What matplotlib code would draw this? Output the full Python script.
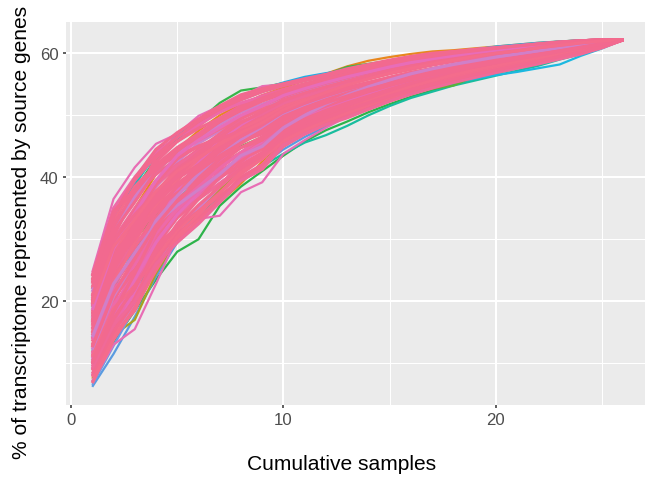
import matplotlib
matplotlib.use("Agg")
import matplotlib.pyplot as plt

samples = list(range(1, 27))

# ---- outlying / coloured permutation curves (drawn first) ----
run_c01 = [8.0, 13.5, 18.5, 23.5, 28.0, 30.0, 35.4, 38.5, 41.0, 43.5, 45.8, 47.6, 49.0, 50.5, 51.8, 53.0, 54.0, 55.0, 55.9, 56.8, 57.6, 58.5, 59.4, 60.3, 61.2, 62.2]
run_c02 = [10.5, 17.0, 22.0, 26.5, 31.0, 34.0, 37.0, 39.5, 41.8, 43.8, 45.6, 46.8, 48.3, 50.0, 51.5, 52.8, 53.8, 54.8, 55.6, 56.4, 57.2, 58.0, 59.0, 59.9, 61.0, 62.2]
run_c03 = [6.2, 11.5, 17.5, 24.0, 29.5, 33.0, 36.5, 39.5, 42.0, 44.5, 46.5, 48.2, 49.8, 51.2, 52.5, 53.6, 54.6, 55.5, 56.3, 57.1, 57.9, 58.7, 59.5, 60.4, 61.3, 62.2]
run_c04 = [9.0, 14.5, 17.0, 24.5, 30.0, 34.5, 38.0, 41.0, 43.0, 45.0, 47.0, 48.7, 50.3, 51.6, 52.9, 54.0, 55.0, 55.9, 56.7, 57.5, 58.2, 59.0, 59.8, 60.6, 61.4, 62.2]
run_c05 = [7.5, 15.0, 20.5, 26.0, 31.0, 33.5, 36.0, 39.0, 42.5, 45.0, 47.2, 49.0, 50.5, 51.8, 53.0, 54.2, 55.2, 56.1, 56.9, 57.7, 58.5, 59.2, 59.9, 60.6, 61.4, 62.2]
run_c06 = [18.0, 28.0, 35.0, 40.5, 44.5, 47.5, 50.0, 51.8, 53.2, 54.5, 55.6, 56.7, 57.9, 58.8, 59.4, 59.9, 60.3, 60.5, 60.8, 61.1, 61.4, 61.7, 61.9, 62.1, 62.2, 62.2]
run_c07 = [20.0, 31.0, 38.0, 43.0, 46.5, 49.0, 52.0, 54.0, 54.5, 55.2, 55.9, 56.6, 57.8, 58.3, 58.8, 59.3, 59.8, 60.2, 60.6, 61.0, 61.3, 61.6, 61.9, 62.1, 62.2, 62.2]
run_c08 = [22.0, 33.0, 39.0, 43.5, 46.8, 49.2, 51.0, 52.8, 54.2, 55.3, 56.2, 56.8, 57.3, 57.9, 58.5, 59.1, 59.6, 60.1, 60.6, 61.1, 61.4, 61.7, 61.9, 62.1, 62.2, 62.2]
run_c09 = [12.0, 22.0, 28.5, 33.0, 36.5, 39.5, 42.0, 44.0, 45.8, 47.3, 48.6, 49.8, 50.9, 51.9, 52.8, 53.6, 54.4, 55.2, 55.9, 56.5, 57.0, 57.6, 58.2, 59.6, 60.8, 62.2]
run_c10 = [19.0, 30.5, 38.5, 44.5, 46.0, 48.8, 50.5, 52.5, 53.8, 54.8, 55.6, 56.3, 57.0, 57.7, 58.4, 59.0, 59.5, 60.0, 60.4, 60.8, 61.2, 61.5, 61.8, 62.0, 62.2, 62.2]
run_c11 = [14.0, 24.0, 30.0, 34.0, 37.5, 40.5, 43.0, 45.0, 46.5, 47.8, 49.0, 50.2, 51.2, 52.2, 53.0, 53.8, 54.3, 54.8, 56.3, 57.0, 57.7, 58.4, 59.1, 59.9, 61.0, 62.2]
run_c12 = [11.0, 20.0, 27.0, 31.5, 35.5, 39.0, 41.5, 44.0, 46.0, 47.8, 49.3, 50.6, 51.8, 52.9, 53.9, 54.8, 55.6, 56.4, 57.1, 57.8, 58.4, 59.1, 59.8, 60.5, 61.3, 62.2]
run_c13 = [6.5, 12.8, 19.0, 25.5, 30.5, 35.0, 38.5, 41.5, 44.0, 46.0, 47.8, 49.4, 50.8, 52.0, 53.2, 54.2, 55.1, 56.0, 56.8, 57.6, 58.3, 59.0, 59.8, 60.6, 61.4, 62.2]

# ---- pink permutation curves (drawn last, on top) ----
run_p01 = [7.0, 13.0, 15.5, 22.8, 30.5, 33.3, 33.8, 37.6, 39.2, 43.8, 46.0, 48.0, 49.8, 51.2, 52.6, 53.8, 54.8, 55.7, 56.6, 57.4, 58.1, 58.8, 59.6, 60.4, 61.3, 62.2]
run_p02 = [24.7, 36.5, 41.6, 45.4, 47.0, 49.9, 51.5, 53.0, 54.7, 55.0, 55.8, 56.5, 57.3, 58.0, 58.8, 59.4, 59.9, 60.3, 60.7, 61.0, 61.3, 61.6, 61.9, 62.1, 62.2, 62.2]
run_p03 = [22.8, 31.5, 36.4, 43.2, 45.8, 47.9, 49.5, 51.5, 53.2, 54.2, 55.1, 55.9, 56.5, 57.2, 58.0, 58.8, 59.3, 59.6, 60.0, 60.5, 60.9, 61.3, 61.6, 61.9, 62.1, 62.2]
run_p04 = [19.1, 29.0, 33.8, 38.7, 41.8, 43.9, 46.6, 48.0, 49.5, 51.3, 52.5, 53.5, 54.5, 55.3, 56.1, 56.9, 57.5, 58.1, 58.6, 59.0, 59.5, 60.1, 60.6, 61.1, 61.6, 62.2]
run_p05 = [8.0, 15.5, 21.5, 29.0, 33.5, 37.0, 39.8, 42.5, 44.6, 47.0, 48.5, 50.0, 51.2, 52.3, 53.5, 54.6, 55.4, 56.2, 57.0, 57.7, 58.3, 59.0, 59.6, 60.3, 61.1, 62.2]
run_p06 = [15.4, 24.0, 28.6, 34.3, 37.9, 40.0, 43.0, 45.8, 47.0, 49.6, 50.9, 52.1, 53.1, 54.2, 55.3, 56.2, 56.9, 57.6, 58.1, 58.6, 59.1, 59.7, 60.3, 60.9, 61.5, 62.2]
run_p07 = [11.7, 19.0, 23.3, 28.5, 31.9, 35.0, 38.5, 42.5, 45.4, 48.4, 50.5, 52.0, 53.0, 54.0, 54.9, 55.7, 56.4, 57.0, 57.6, 58.2, 58.8, 59.4, 60.0, 60.7, 61.4, 62.2]
run_p08 = [17.3, 27.5, 33.5, 38.5, 42.5, 45.5, 47.5, 49.5, 51.0, 52.5, 53.6, 54.8, 55.7, 56.5, 57.3, 58.0, 58.6, 59.2, 59.7, 60.1, 60.5, 60.9, 61.3, 61.7, 62.0, 62.2]
run_p09 = [13.5, 22.5, 27.5, 33.5, 38.0, 41.5, 44.5, 47.0, 48.5, 50.5, 51.8, 52.8, 53.6, 54.4, 55.0, 55.6, 56.3, 57.0, 57.6, 58.2, 58.8, 59.5, 60.1, 60.8, 61.5, 62.2]
run_p10 = [21.0, 30.0, 35.0, 39.5, 42.0, 44.0, 45.5, 47.0, 48.0, 49.8, 51.2, 52.5, 53.6, 54.6, 55.5, 56.3, 57.0, 57.7, 58.3, 58.9, 59.4, 60.0, 60.6, 61.2, 61.7, 62.2]
run_p11 = [9.8, 17.0, 22.0, 29.0, 33.5, 36.5, 39.0, 41.5, 43.5, 46.5, 48.0, 49.5, 50.8, 52.0, 53.2, 54.3, 55.2, 56.1, 57.0, 57.7, 58.4, 59.1, 59.8, 60.5, 61.2, 62.2]
run_p12 = [19.5, 30.5, 37.0, 41.5, 44.5, 47.0, 49.5, 51.5, 53.0, 54.0, 55.0, 55.8, 56.6, 57.3, 58.0, 58.6, 59.1, 59.6, 60.0, 60.4, 60.8, 61.2, 61.6, 61.9, 62.1, 62.2]
run_p13 = [16.0, 24.5, 29.0, 33.0, 36.0, 38.5, 40.5, 43.0, 44.5, 47.3, 49.0, 50.3, 51.5, 52.6, 53.8, 54.8, 55.6, 56.4, 57.1, 57.8, 58.4, 59.0, 59.7, 60.4, 61.2, 62.2]
run_p14 = [12.5, 21.0, 27.0, 33.0, 38.0, 42.0, 45.5, 48.0, 50.0, 51.5, 52.8, 54.0, 55.0, 55.9, 56.8, 57.6, 58.2, 58.8, 59.3, 59.8, 60.3, 60.8, 61.2, 61.6, 62.0, 62.2]
run_p15 = [9.0, 16.0, 22.5, 30.0, 35.0, 39.5, 42.5, 45.5, 47.5, 49.5, 51.0, 52.3, 53.4, 54.4, 55.3, 56.1, 56.8, 57.5, 58.1, 58.7, 59.2, 59.8, 60.4, 61.0, 61.6, 62.2]
run_p16 = [17.8, 26.0, 31.0, 35.0, 38.5, 41.0, 43.5, 45.5, 47.5, 50.0, 51.5, 52.8, 53.9, 54.9, 55.8, 56.6, 57.3, 58.0, 58.6, 59.1, 59.6, 60.1, 60.6, 61.1, 61.6, 62.2]
run_p17 = [23.5, 33.0, 38.5, 42.0, 44.0, 46.0, 47.8, 49.5, 51.0, 52.2, 53.4, 54.5, 55.4, 56.3, 57.1, 57.8, 58.4, 59.0, 59.5, 60.0, 60.4, 60.9, 61.3, 61.7, 62.0, 62.2]
run_p18 = [10.8, 18.0, 21.0, 26.0, 30.5, 33.0, 36.5, 40.0, 42.0, 45.5, 47.5, 49.2, 50.8, 52.2, 53.5, 54.6, 55.5, 56.3, 57.1, 57.8, 58.5, 59.1, 59.8, 60.5, 61.2, 62.2]
run_p19 = [14.5, 23.5, 30.0, 36.0, 40.5, 44.0, 46.5, 48.5, 50.5, 52.5, 53.8, 55.0, 55.9, 56.8, 57.6, 58.3, 58.9, 59.4, 59.9, 60.3, 60.7, 61.1, 61.5, 61.8, 62.1, 62.2]
run_p20 = [18.3, 28.0, 32.5, 37.0, 40.5, 43.0, 45.0, 46.8, 48.3, 50.2, 51.5, 52.7, 53.7, 54.7, 55.6, 56.4, 57.1, 57.8, 58.4, 59.0, 59.5, 60.1, 60.6, 61.1, 61.6, 62.2]
run_p21 = [7.0, 14.0, 19.5, 26.0, 31.0, 35.0, 38.5, 41.5, 43.5, 46.5, 48.3, 49.8, 51.0, 52.2, 53.3, 54.3, 55.2, 56.0, 56.8, 57.5, 58.2, 58.9, 59.6, 60.3, 61.1, 62.2]
run_p22 = [20.0, 31.0, 37.5, 42.5, 45.8, 48.3, 50.8, 52.5, 53.8, 54.8, 55.7, 56.4, 57.1, 57.8, 58.5, 59.1, 59.6, 60.0, 60.4, 60.8, 61.1, 61.4, 61.7, 62.0, 62.2, 62.2]
run_p23 = [16.5, 25.0, 29.5, 32.0, 34.0, 36.5, 39.0, 41.5, 43.5, 46.5, 48.5, 50.2, 51.6, 52.9, 54.0, 55.0, 55.9, 56.8, 57.5, 58.2, 58.8, 59.4, 60.0, 60.7, 61.3, 62.2]
run_p24 = [11.2, 20.0, 26.0, 32.5, 37.0, 41.0, 44.0, 46.5, 48.5, 50.5, 52.0, 53.2, 54.2, 55.1, 55.9, 56.7, 57.4, 58.0, 58.6, 59.1, 59.6, 60.1, 60.6, 61.1, 61.6, 62.2]
run_p25 = [22.0, 32.5, 37.0, 40.5, 43.0, 45.0, 46.5, 48.0, 49.0, 50.8, 52.2, 53.4, 54.4, 55.3, 56.1, 56.8, 57.5, 58.1, 58.6, 59.1, 59.6, 60.1, 60.6, 61.1, 61.6, 62.2]
run_p26 = [13.0, 21.5, 26.5, 32.5, 36.5, 39.0, 41.5, 44.0, 46.0, 48.8, 50.3, 51.6, 52.7, 53.8, 54.8, 55.7, 56.5, 57.3, 58.0, 58.6, 59.2, 59.8, 60.4, 61.0, 61.6, 62.2]
run_p27 = [8.8, 15.0, 20.0, 26.5, 31.0, 33.5, 36.5, 40.0, 42.0, 45.5, 47.3, 48.8, 50.0, 51.2, 52.5, 53.7, 54.6, 55.5, 56.3, 57.1, 57.9, 58.6, 59.4, 60.2, 61.0, 62.2]
run_p28 = [24.2, 35.0, 40.0, 44.0, 46.5, 48.5, 50.5, 52.0, 53.0, 54.0, 54.9, 55.7, 56.5, 57.2, 57.9, 58.6, 59.2, 59.7, 60.1, 60.5, 60.9, 61.3, 61.6, 61.9, 62.1, 62.2]
run_p29 = [15.0, 25.0, 31.0, 36.0, 40.0, 43.5, 46.0, 48.0, 49.5, 51.0, 52.0, 52.8, 53.6, 54.4, 55.1, 55.8, 56.5, 57.2, 57.8, 58.4, 59.0, 59.6, 60.2, 60.8, 61.5, 62.2]
run_p30 = [19.8, 28.5, 32.0, 35.5, 38.0, 40.5, 42.0, 44.0, 45.5, 48.0, 49.6, 51.0, 52.2, 53.3, 54.3, 55.3, 56.1, 56.9, 57.6, 58.3, 58.9, 59.5, 60.1, 60.8, 61.4, 62.2]
run_p31 = [10.5, 18.5, 25.5, 32.0, 38.0, 42.5, 45.8, 48.5, 50.5, 52.0, 53.2, 54.3, 55.3, 56.2, 57.0, 57.7, 58.3, 58.9, 59.4, 59.9, 60.3, 60.8, 61.2, 61.6, 62.0, 62.2]
run_p32 = [17.0, 26.8, 31.5, 36.5, 39.8, 42.0, 44.8, 47.4, 48.5, 50.7, 52.0, 53.1, 54.0, 55.0, 56.1, 56.9, 57.5, 58.1, 58.6, 59.0, 59.5, 60.1, 60.6, 61.1, 61.6, 62.2]
run_p33 = [12.8, 20.5, 25.0, 30.5, 34.5, 37.5, 40.0, 42.0, 44.0, 47.0, 48.6, 50.0, 51.2, 52.4, 53.5, 54.5, 55.4, 56.2, 57.0, 57.7, 58.4, 59.0, 59.7, 60.4, 61.1, 62.2]
run_p34 = [21.5, 31.8, 36.8, 41.0, 44.0, 46.2, 48.5, 50.5, 51.8, 53.0, 54.0, 55.0, 56.0, 56.8, 57.6, 58.3, 58.9, 59.3, 59.7, 60.0, 60.4, 60.9, 61.2, 61.6, 61.9, 62.2]
run_p35 = [14.0, 22.0, 25.0, 29.0, 32.0, 34.5, 37.0, 39.5, 41.5, 45.0, 47.0, 48.6, 49.8, 51.0, 52.3, 53.5, 54.5, 55.4, 56.2, 57.0, 57.8, 58.6, 59.4, 60.2, 61.0, 62.2]
run_p36 = [9.5, 16.8, 23.0, 30.5, 35.5, 39.5, 43.0, 46.0, 48.0, 50.0, 51.5, 52.7, 53.8, 54.8, 55.7, 56.5, 57.2, 57.9, 58.5, 59.0, 59.6, 60.1, 60.7, 61.2, 61.7, 62.2]
run_p37 = [23.0, 34.0, 39.5, 43.5, 46.5, 49.0, 51.0, 52.8, 54.0, 54.8, 55.6, 56.3, 57.2, 58.0, 58.7, 59.3, 59.8, 60.2, 60.5, 60.8, 61.1, 61.5, 61.8, 62.0, 62.2, 62.2]
run_p38 = [16.2, 25.5, 32.0, 37.5, 41.5, 44.5, 47.0, 49.5, 51.5, 53.0, 54.2, 55.2, 56.1, 56.9, 57.6, 58.3, 58.9, 59.4, 59.8, 60.2, 60.6, 61.0, 61.4, 61.8, 62.1, 62.2]
run_p39 = [7.8, 14.5, 18.5, 25.5, 30.0, 33.0, 36.0, 39.5, 41.5, 45.5, 47.5, 49.0, 50.4, 51.6, 52.8, 53.9, 54.9, 55.8, 56.6, 57.4, 58.1, 58.8, 59.6, 60.3, 61.1, 62.2]
run_p40 = [18.0, 27.0, 31.5, 35.0, 37.5, 39.5, 41.0, 43.0, 44.8, 47.5, 49.0, 50.4, 51.6, 52.7, 53.8, 54.8, 55.7, 56.5, 57.2, 57.9, 58.6, 59.2, 59.9, 60.6, 61.3, 62.2]
run_p41 = [11.5, 19.5, 24.0, 31.0, 35.5, 38.5, 41.5, 44.0, 46.5, 49.0, 50.6, 52.0, 53.3, 54.4, 55.4, 56.3, 57.1, 57.8, 58.5, 59.1, 59.7, 60.3, 60.8, 61.3, 61.8, 62.2]
run_p42 = [20.5, 29.5, 34.5, 39.0, 42.0, 44.5, 46.0, 47.5, 48.8, 50.0, 51.0, 52.0, 53.0, 54.0, 55.0, 55.9, 56.7, 57.4, 58.1, 58.7, 59.3, 59.9, 60.5, 61.1, 61.6, 62.2]
run_p43 = [14.8, 23.0, 29.5, 35.5, 39.5, 43.0, 45.5, 47.8, 49.5, 51.5, 52.8, 54.0, 55.0, 55.9, 56.7, 57.4, 58.1, 58.7, 59.2, 59.7, 60.2, 60.7, 61.1, 61.5, 61.9, 62.2]
run_p44 = [10.0, 17.5, 23.5, 29.5, 34.0, 37.5, 40.5, 43.5, 45.5, 48.0, 49.8, 51.2, 52.4, 53.5, 54.5, 55.4, 56.2, 57.0, 57.7, 58.3, 58.9, 59.5, 60.1, 60.7, 61.4, 62.2]
run_p45 = [22.3, 32.0, 37.8, 42.0, 44.8, 47.0, 49.0, 50.8, 52.3, 53.5, 54.5, 55.4, 56.2, 57.0, 57.8, 58.4, 59.0, 59.5, 59.9, 60.3, 60.7, 61.1, 61.4, 61.8, 62.1, 62.2]
run_p46 = [17.5, 27.2, 32.0, 36.0, 39.0, 41.5, 43.8, 45.8, 47.2, 49.4, 50.8, 52.0, 53.1, 54.1, 55.0, 55.9, 56.7, 57.4, 58.0, 58.6, 59.2, 59.8, 60.4, 61.0, 61.6, 62.2]
run_p47 = [12.2, 20.8, 26.5, 33.0, 37.0, 40.5, 43.5, 46.0, 47.8, 50.0, 51.4, 52.6, 53.7, 54.7, 55.6, 56.4, 57.1, 57.8, 58.4, 59.0, 59.5, 60.0, 60.6, 61.1, 61.7, 62.2]
run_p48 = [8.3, 15.2, 20.5, 27.5, 32.5, 36.5, 40.0, 43.0, 45.0, 47.8, 49.4, 50.8, 52.0, 53.1, 54.2, 55.2, 56.0, 56.8, 57.5, 58.2, 58.8, 59.4, 60.0, 60.7, 61.4, 62.2]
run_p49 = [19.3, 29.2, 34.0, 38.8, 42.0, 44.2, 46.6, 49.0, 50.2, 52.0, 53.1, 54.1, 55.1, 56.0, 56.9, 57.6, 58.2, 58.8, 59.2, 59.6, 60.1, 60.6, 61.0, 61.4, 61.8, 62.2]
run_p50 = [15.6, 25.5, 32.5, 39.0, 43.0, 46.5, 49.0, 51.2, 52.8, 54.0, 55.0, 55.8, 56.7, 57.5, 58.3, 59.0, 59.5, 60.0, 60.4, 60.7, 61.0, 61.4, 61.7, 62.0, 62.2, 62.2]
run_p51 = [24.0, 34.5, 38.0, 41.5, 43.5, 45.0, 46.2, 47.5, 48.6, 50.6, 52.0, 53.2, 54.2, 55.1, 56.0, 56.8, 57.5, 58.2, 58.7, 59.2, 59.7, 60.2, 60.7, 61.2, 61.7, 62.2]
run_p52 = [11.0, 18.8, 22.5, 27.0, 31.5, 34.5, 37.5, 40.5, 43.0, 46.0, 48.0, 49.6, 51.0, 52.3, 53.5, 54.6, 55.6, 56.5, 57.3, 58.0, 58.7, 59.3, 59.9, 60.5, 61.2, 62.2]
run_p53 = [16.8, 25.8, 30.2, 34.8, 38.5, 41.0, 43.5, 45.5, 47.5, 49.8, 51.2, 52.4, 53.4, 54.4, 55.4, 56.2, 57.0, 57.7, 58.3, 58.8, 59.3, 59.9, 60.4, 61.0, 61.6, 62.2]
run_p54 = [13.8, 21.8, 26.0, 31.0, 34.8, 38.0, 40.8, 43.2, 45.2, 48.5, 50.3, 51.8, 53.1, 54.2, 55.2, 56.1, 56.9, 57.6, 58.3, 58.9, 59.5, 60.0, 60.6, 61.1, 61.7, 62.2]
run_p55 = [20.8, 31.2, 36.0, 41.0, 44.2, 46.8, 49.0, 51.0, 52.5, 53.5, 54.5, 55.4, 56.3, 57.1, 57.9, 58.6, 59.1, 59.6, 60.0, 60.4, 60.8, 61.2, 61.5, 61.8, 62.1, 62.2]
run_p56 = [6.8, 13.8, 19.0, 25.0, 30.5, 34.0, 37.5, 41.0, 43.0, 46.0, 47.8, 49.4, 50.8, 52.0, 53.2, 54.2, 55.1, 56.0, 56.8, 57.5, 58.2, 58.9, 59.6, 60.4, 61.1, 62.2]
run_p57 = [18.6, 28.5, 34.2, 39.5, 43.5, 46.0, 48.0, 50.0, 51.5, 53.2, 54.3, 55.3, 56.2, 57.0, 57.8, 58.5, 59.0, 59.5, 59.9, 60.3, 60.7, 61.1, 61.5, 61.8, 62.1, 62.2]
run_p58 = [10.2, 18.2, 24.5, 31.5, 36.0, 39.8, 43.0, 45.5, 47.5, 49.7, 51.2, 52.5, 53.6, 54.6, 55.5, 56.3, 57.0, 57.7, 58.3, 58.9, 59.4, 59.9, 60.5, 61.0, 61.6, 62.2]
run_p59 = [20.2, 29.8, 34.0, 37.5, 40.0, 41.8, 43.2, 44.8, 46.0, 48.6, 50.2, 51.5, 52.7, 53.8, 54.8, 55.7, 56.5, 57.2, 57.9, 58.5, 59.1, 59.7, 60.3, 60.9, 61.5, 62.2]
run_p60 = [14.2, 22.8, 27.8, 32.5, 35.5, 38.0, 40.5, 43.5, 45.0, 48.0, 50.0, 51.8, 53.3, 54.6, 55.7, 56.7, 57.5, 58.2, 58.8, 59.4, 59.9, 60.4, 60.9, 61.4, 61.9, 62.2]
run_p61 = [23.3, 33.8, 39.8, 44.5, 47.2, 49.4, 51.5, 53.3, 54.3, 55.1, 55.9, 56.6, 57.5, 58.2, 58.9, 59.5, 60.0, 60.3, 60.6, 60.9, 61.2, 61.5, 61.8, 62.0, 62.2, 62.2]
run_p62 = [9.2, 16.2, 20.0, 26.0, 29.5, 32.5, 36.0, 39.5, 41.3, 45.2, 47.0, 48.5, 49.6, 51.0, 52.3, 53.4, 54.4, 55.3, 56.1, 56.9, 57.6, 58.3, 59.1, 59.9, 60.9, 62.2]
run_p63 = [16.6, 26.2, 31.8, 37.2, 41.0, 44.0, 46.5, 48.8, 50.6, 52.4, 53.6, 54.6, 55.5, 56.4, 57.2, 57.9, 58.6, 59.1, 59.6, 60.0, 60.4, 60.9, 61.3, 61.7, 62.0, 62.2]
run_p64 = [12.6, 21.2, 26.8, 32.2, 36.2, 39.2, 42.2, 44.8, 46.5, 49.2, 50.7, 52.0, 53.1, 54.2, 55.1, 56.0, 56.8, 57.5, 58.1, 58.7, 59.3, 59.8, 60.4, 61.0, 61.6, 62.2]
run_p65 = [19.6, 28.8, 33.2, 37.8, 41.0, 43.2, 45.3, 47.2, 48.8, 50.9, 52.4, 53.7, 54.9, 55.9, 56.8, 57.6, 58.3, 58.9, 59.5, 60.0, 60.4, 60.9, 61.3, 61.7, 62.0, 62.2]
run_p66 = [10.0, 17.2, 22.2, 28.0, 32.0, 35.5, 38.5, 41.5, 43.5, 46.5, 48.2, 49.6, 50.9, 52.0, 53.1, 54.1, 55.0, 55.8, 56.6, 57.3, 58.0, 58.7, 59.5, 60.2, 61.0, 62.2]

colored_runs = [run_c01, run_c02, run_c03, run_c04, run_c05, run_c06, run_c07,
                run_c08, run_c09, run_c10, run_c11, run_c12, run_c13]
colored_cols = ['#2DB34A', '#19BD9E', '#5A9BE0', '#A8A41E', '#E08A1E', '#E8871E',
                '#39B54A', '#1BAEE8', '#1CB8E0', '#13BFB5', '#5BB33A', '#A58ADB',
                '#6B9BE6']

pink_runs = [run_p01, run_p02, run_p03, run_p04, run_p05, run_p06, run_p07,
             run_p08, run_p09, run_p10, run_p11, run_p12, run_p13, run_p14,
             run_p15, run_p16, run_p17, run_p18, run_p19, run_p20, run_p21,
             run_p22, run_p23, run_p24, run_p25, run_p26, run_p27, run_p28,
             run_p29, run_p30, run_p31, run_p32, run_p33, run_p34, run_p35,
             run_p36, run_p37, run_p38, run_p39, run_p40, run_p41, run_p42,
             run_p43, run_p44, run_p45, run_p46, run_p47, run_p48, run_p49,
             run_p50, run_p51, run_p52, run_p53, run_p54, run_p55, run_p56,
             run_p57, run_p58, run_p59, run_p60, run_p61, run_p62, run_p63,
             run_p64, run_p65, run_p66]
pink_cycle = ['#F2698F', '#EE6AA8', '#F2698F', '#F46C8C', '#E86DB8', '#F2698F',
              '#F2698F', '#D07FC8', '#F2698F', '#F06A98', '#F2698F', '#F2698F',
              '#F46C8C']

plt.rcParams['font.family'] = ['Liberation Sans', 'DejaVu Sans']

fig = plt.figure(figsize=(6.45, 4.81), dpi=100)
ax = fig.add_axes([65.7 / 645, 1 - 406 / 481, 584.3 / 645, 383.3 / 481])
ax.set_facecolor('#EBEBEB')
for s in ax.spines.values():
    s.set_visible(False)

ax.set_xlim(-0.25, 27.25)
ax.set_ylim(3.27, 65.1)
ax.set_xticks([0, 10, 20])
ax.set_xticks([5, 15, 25], minor=True)
ax.set_yticks([20, 40, 60])
ax.set_yticks([10, 30, 50], minor=True)
ax.grid(which='major', color='white', linewidth=1.45)
ax.grid(which='minor', color='white', linewidth=0.72)
ax.set_axisbelow(True)
ax.tick_params(which='major', length=2.2, width=1.1, color='#333333',
               labelsize=12.1, labelcolor='#4D4D4D', pad=3.0)
ax.tick_params(which='minor', length=0)

for run, col in zip(colored_runs, colored_cols):
    ax.plot(samples, run, color=col, linewidth=1.6, solid_joinstyle='round',
            solid_capstyle='butt')

edge_pinks = (0, 1)
for i, run in enumerate(pink_runs):
    col = pink_cycle[i % len(pink_cycle)]
    lw = 2.3
    if i in edge_pinks:
        col = '#E86DB5'
        lw = 1.6
    ax.plot(samples, run, color=col, linewidth=lw, solid_joinstyle='round',
            solid_capstyle='butt')

fig.text(342 / 645, 1 - 464 / 481, 'Cumulative samples', ha='center', va='center',
         fontsize=15.1, color='black')
fig.text(22 / 645, 1 - 232 / 481, '% of transcriptome represented by source genes',
         ha='center', va='center', rotation=90, fontsize=15.1, color='black')

fig.savefig('out.png', dpi=100)
